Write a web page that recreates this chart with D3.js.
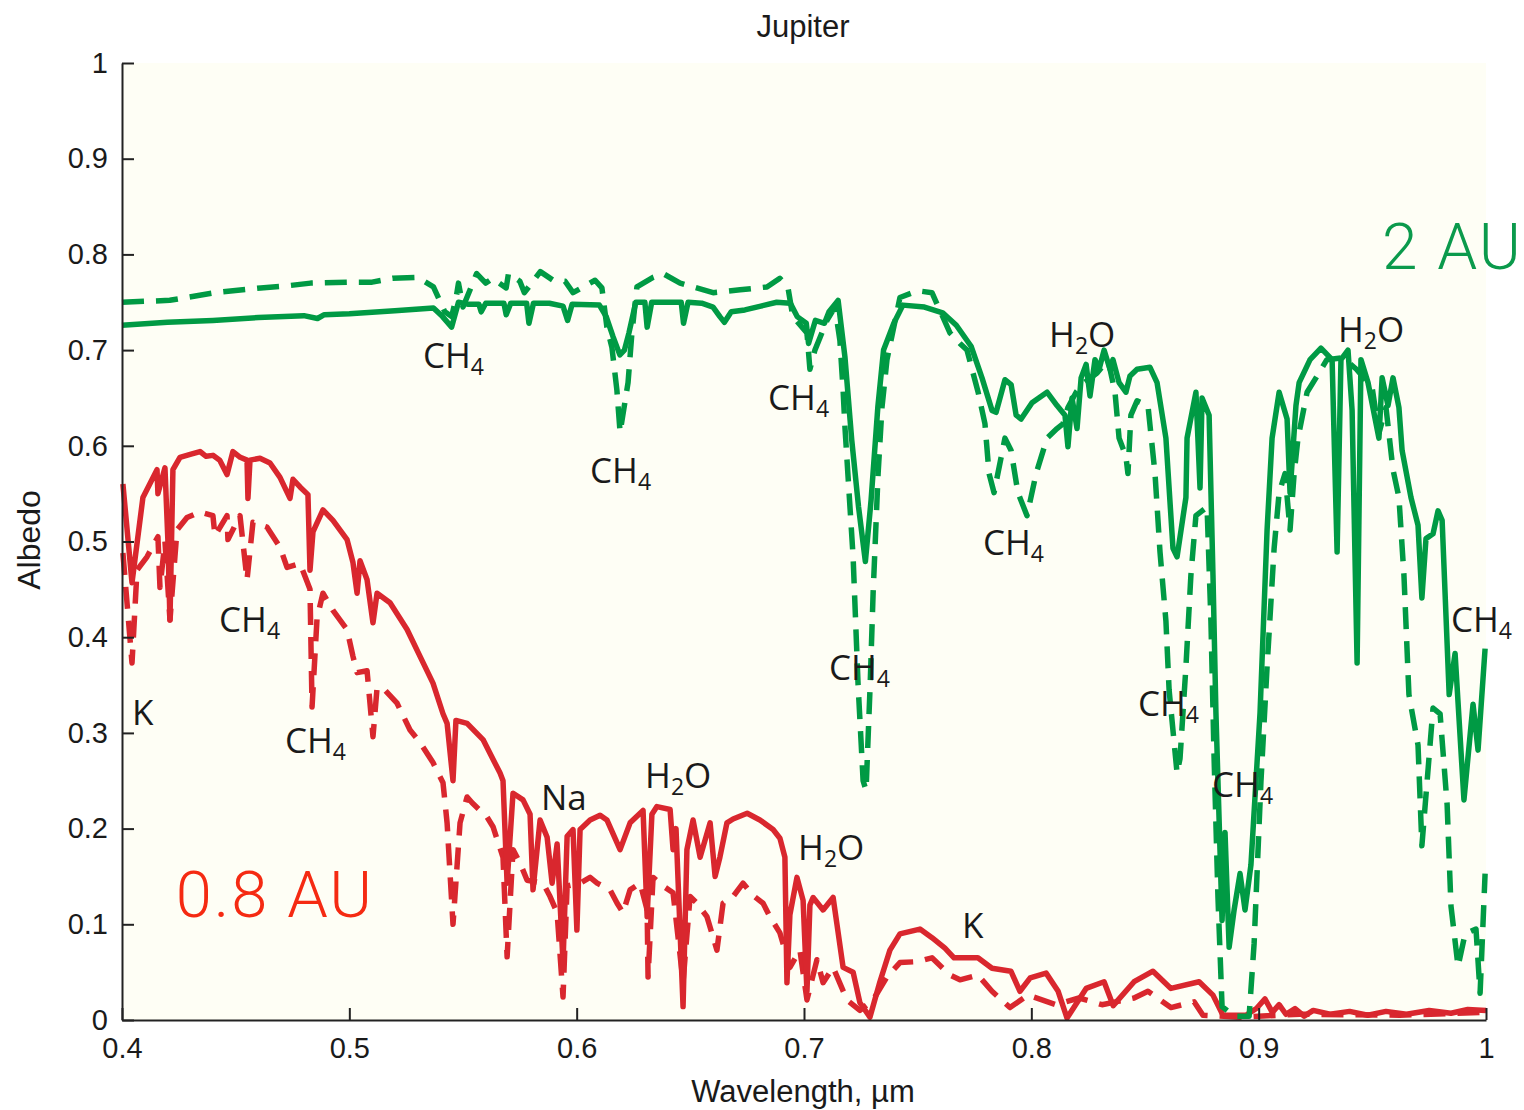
<!DOCTYPE html>
<html>
<head>
<meta charset="utf-8">
<script src="https://cdn.jsdelivr.net/npm/d3@7"></script>
<style>
  body { margin: 0; background: #ffffff; }
  svg { display: block; }
</style>
</head>
<body>
<div id="chart"></div>
<script>
// spectra: [wavelength (um), albedo]
var green2auSolid = [
[0.400,0.726],[0.420,0.729],[0.440,0.731],[0.460,0.734],[0.480,0.736],[0.486,0.733],[0.489,0.737],[0.500,0.738],[0.520,0.741],[0.537,0.744],[0.541,0.735],[0.545,0.724],[0.548,0.750],[0.552,0.748],[0.557,0.748],[0.558,0.740],[0.560,0.749],[0.568,0.749],[0.569,0.737],[0.571,0.749],[0.578,0.749],[0.579,0.728],[0.581,0.749],[0.588,0.749],[0.594,0.746],[0.596,0.731],[0.598,0.748],[0.610,0.747],[0.613,0.735],[0.616,0.714],[0.619,0.695],[0.621,0.700],[0.623,0.718],[0.626,0.750],[0.630,0.750],[0.631,0.724],[0.633,0.750],[0.646,0.750],[0.647,0.728],[0.649,0.750],[0.655,0.749],[0.660,0.745],[0.663,0.735],[0.665,0.729],[0.668,0.740],[0.674,0.742],[0.681,0.746],[0.688,0.750],[0.694,0.749],[0.697,0.735],[0.701,0.728],[0.702,0.707],[0.705,0.731],[0.709,0.728],[0.711,0.740],[0.715,0.752],[0.718,0.693],[0.721,0.606],[0.724,0.536],[0.727,0.479],[0.7295,0.543],[0.7325,0.641],[0.735,0.700],[0.7395,0.728],[0.7435,0.747],[0.753,0.745],[0.761,0.739],[0.767,0.726],[0.7735,0.704],[0.7783,0.671],[0.7827,0.637],[0.7845,0.635],[0.7884,0.669],[0.7911,0.664],[0.7933,0.632],[0.7955,0.628],[0.8003,0.645],[0.8069,0.656],[0.8113,0.642],[0.8148,0.632],[0.8161,0.599],[0.8179,0.650],[0.8201,0.618],[0.8219,0.671],[0.8241,0.685],[0.8258,0.652],[0.8280,0.690],[0.8298,0.680],[0.8320,0.700],[0.8346,0.680],[0.8359,0.690],[0.8386,0.666],[0.8416,0.656],[0.8434,0.673],[0.8465,0.680],[0.8522,0.682],[0.8553,0.666],[0.8592,0.608],[0.8623,0.493],[0.8641,0.484],[0.8680,0.546],[0.8685,0.608],[0.8724,0.656],[0.8742,0.556],[0.8751,0.650],[0.8782,0.632],[0.8799,0.465],[0.8812,0.321],[0.8830,0.177],[0.8839,0.104],[0.8852,0.196],[0.8870,0.076],[0.8892,0.115],[0.8918,0.153],[0.8940,0.115],[0.8966,0.162],[0.9006,0.321],[0.9037,0.512],[0.9059,0.608],[0.9090,0.656],[0.9125,0.628],[0.9138,0.551],[0.9164,0.642],[0.9178,0.666],[0.9226,0.690],[0.9274,0.702],[0.9323,0.690],[0.9345,0.489],[0.9362,0.690],[0.9393,0.700],[0.9411,0.637],[0.9433,0.373],[0.9450,0.690],[0.9481,0.666],[0.9529,0.608],[0.9543,0.671],[0.9569,0.642],[0.9591,0.671],[0.9617,0.640],[0.9631,0.595],[0.9670,0.546],[0.9701,0.517],[0.9718,0.441],[0.9736,0.503],[0.9767,0.508],[0.9789,0.532],[0.9807,0.522],[0.9838,0.340],[0.9864,0.383],[0.9903,0.230],[0.9943,0.330],[0.9965,0.282],[0.9996,0.388]
];

var green2auDashed = [
[0.400,0.750],[0.421,0.752],[0.431,0.756],[0.441,0.760],[0.461,0.765],[0.472,0.767],[0.483,0.770],[0.499,0.771],[0.510,0.771],[0.519,0.775],[0.530,0.776],[0.537,0.766],[0.542,0.740],[0.545,0.735],[0.547,0.755],[0.548,0.770],[0.550,0.745],[0.556,0.780],[0.560,0.770],[0.563,0.775],[0.569,0.765],[0.570,0.780],[0.575,0.772],[0.577,0.760],[0.584,0.782],[0.5896,0.773],[0.5949,0.772],[0.5984,0.760],[0.6081,0.773],[0.6111,0.765],[0.6133,0.724],[0.6155,0.703],[0.6177,0.658],[0.6191,0.614],[0.6226,0.666],[0.6243,0.718],[0.6265,0.766],[0.6336,0.776],[0.638,0.780],[0.6455,0.770],[0.6512,0.766],[0.66,0.760],[0.6719,0.763],[0.6837,0.766],[0.6894,0.775],[0.6929,0.766],[0.6951,0.735],[0.7013,0.718],[0.7026,0.680],[0.7048,0.700],[0.7101,0.731],[0.7136,0.745],[0.7158,0.710],[0.7172,0.658],[0.718,0.620],[0.7216,0.484],[0.7238,0.350],[0.726,0.250],[0.7273,0.240],[0.7291,0.350],[0.7304,0.446],[0.7326,0.571],[0.7343,0.640],[0.7365,0.690],[0.7387,0.715],[0.7422,0.755],[0.750,0.762],[0.7563,0.760],[0.7642,0.718],[0.7686,0.707],[0.7717,0.700],[0.7766,0.656],[0.7796,0.623],[0.7814,0.571],[0.7836,0.551],[0.7884,0.608],[0.7911,0.595],[0.7941,0.551],[0.7981,0.527],[0.8021,0.571],[0.8069,0.608],[0.8113,0.618],[0.8139,0.623],[0.8161,0.640],[0.8197,0.656],[0.8227,0.665],[0.8289,0.676],[0.8337,0.690],[0.8368,0.656],[0.8386,0.608],[0.8416,0.589],[0.8425,0.571],[0.8438,0.632],[0.8465,0.647],[0.8513,0.642],[0.8544,0.571],[0.8566,0.489],[0.8592,0.417],[0.8606,0.345],[0.8641,0.258],[0.8654,0.273],[0.8680,0.369],[0.8702,0.465],[0.8724,0.527],[0.8751,0.532],[0.8773,0.536],[0.8790,0.417],[0.8804,0.273],[0.8821,0.128],[0.8839,0.014],[0.8892,0.004],[0.8958,0.004],[0.8980,0.080],[0.9010,0.249],[0.9037,0.369],[0.9068,0.493],[0.9090,0.551],[0.9116,0.571],[0.9138,0.512],[0.9156,0.571],[0.9173,0.608],[0.9213,0.656],[0.9252,0.671],[0.930,0.690],[0.937,0.692],[0.943,0.680],[0.9499,0.661],[0.9529,0.613],[0.9560,0.640],[0.9591,0.575],[0.9617,0.546],[0.9639,0.465],[0.9661,0.340],[0.9701,0.287],[0.9718,0.182],[0.9767,0.326],[0.9798,0.320],[0.9829,0.225],[0.9846,0.119],[0.9877,0.056],[0.9908,0.090],[0.9956,0.095],[0.9974,0.028],[0.9996,0.153]
];

var red08auSolid = [
[0.4004,0.560],[0.4044,0.457],[0.4092,0.546],[0.4154,0.575],[0.4158,0.550],[0.4189,0.577],[0.4202,0.500],[0.4211,0.418],[0.4224,0.575],[0.4255,0.588],[0.4300,0.591],[0.4343,0.594],[0.4370,0.589],[0.4400,0.590],[0.4430,0.585],[0.4462,0.570],[0.4488,0.594],[0.4520,0.588],[0.4550,0.585],[0.4554,0.545],[0.4563,0.585],[0.4607,0.587],[0.4651,0.582],[0.4695,0.567],[0.4739,0.545],[0.4752,0.565],[0.4783,0.557],[0.4818,0.549],[0.4827,0.470],[0.4840,0.510],[0.4884,0.533],[0.4928,0.522],[0.4990,0.502],[0.5016,0.478],[0.5034,0.446],[0.5047,0.480],[0.5078,0.460],[0.5104,0.415],[0.5122,0.446],[0.5179,0.436],[0.5254,0.408],[0.5311,0.380],[0.5368,0.352],[0.5412,0.320],[0.5430,0.310],[0.5456,0.250],[0.5469,0.313],[0.5518,0.310],[0.5588,0.293],[0.5663,0.258],[0.5676,0.250],[0.5694,0.143],[0.5720,0.237],[0.5764,0.230],[0.5795,0.215],[0.5808,0.136],[0.5839,0.209],[0.5870,0.191],[0.5892,0.143],[0.5914,0.184],[0.5940,0.060],[0.5958,0.192],[0.5984,0.199],[0.6001,0.094],[0.6015,0.199],[0.6059,0.209],[0.6103,0.214],[0.6133,0.209],[0.6191,0.178],[0.6235,0.206],[0.6292,0.219],[0.6310,0.108],[0.6331,0.215],[0.6353,0.223],[0.6411,0.220],[0.6424,0.178],[0.6437,0.200],[0.6468,0.014],[0.6485,0.178],[0.6512,0.209],[0.6543,0.170],[0.6587,0.206],[0.6609,0.150],[0.6630,0.170],[0.6661,0.206],[0.6688,0.210],[0.6750,0.216],[0.6806,0.209],[0.6864,0.199],[0.6894,0.190],[0.6916,0.170],[0.6925,0.039],[0.6938,0.110],[0.6969,0.149],[0.6996,0.125],[0.7013,0.030],[0.7026,0.120],[0.7040,0.128],[0.7084,0.115],[0.7128,0.128],[0.7145,0.100],[0.7172,0.055],[0.7216,0.050],[0.7246,0.018],[0.7290,0.003],[0.7334,0.040],[0.7378,0.073],[0.7422,0.090],[0.7510,0.095],[0.7563,0.086],[0.7620,0.075],[0.7660,0.065],[0.7765,0.065],[0.7827,0.054],[0.7910,0.051],[0.7950,0.030],[0.7995,0.044],[0.8065,0.049],[0.8118,0.030],[0.8157,0.002],[0.8241,0.033],[0.8320,0.040],[0.8360,0.015],[0.8452,0.040],[0.8535,0.051],[0.8614,0.033],[0.8738,0.040],[0.8799,0.026],[0.8843,0.005],[0.8944,0.005],[0.8990,0.012],[0.9028,0.022],[0.9060,0.008],[0.9090,0.016],[0.9120,0.006],[0.9160,0.012],[0.9200,0.004],[0.9240,0.010],[0.9314,0.006],[0.9400,0.009],[0.9480,0.005],[0.9560,0.009],[0.9650,0.006],[0.9750,0.010],[0.9846,0.007],[0.9920,0.011],[1.000,0.010]
];

var red08auDashed = [
[0.4004,0.488],[0.4044,0.373],[0.4066,0.470],[0.4110,0.484],[0.4158,0.505],[0.4167,0.452],[0.4189,0.500],[0.4211,0.418],[0.4242,0.512],[0.4286,0.525],[0.4343,0.531],[0.4400,0.527],[0.4409,0.506],[0.4462,0.527],[0.4466,0.502],[0.4519,0.527],[0.4550,0.460],[0.4576,0.520],[0.4638,0.515],[0.4695,0.494],[0.4726,0.473],[0.4783,0.477],[0.4827,0.450],[0.4836,0.327],[0.4858,0.420],[0.4884,0.446],[0.4928,0.428],[0.4990,0.408],[0.5016,0.380],[0.5034,0.363],[0.5078,0.365],[0.5104,0.296],[0.5122,0.347],[0.5148,0.347],[0.5210,0.331],[0.5267,0.303],[0.5311,0.290],[0.5368,0.269],[0.5412,0.248],[0.5430,0.206],[0.5456,0.100],[0.5487,0.206],[0.5518,0.233],[0.5540,0.227],[0.5606,0.212],[0.5632,0.202],[0.5676,0.170],[0.5694,0.066],[0.5720,0.178],[0.5751,0.164],[0.5782,0.146],[0.5852,0.143],[0.5883,0.129],[0.5914,0.112],[0.5940,0.024],[0.5958,0.140],[0.6015,0.143],[0.6059,0.149],[0.6090,0.143],[0.6147,0.136],[0.6178,0.122],[0.6204,0.112],[0.6235,0.136],[0.6279,0.143],[0.6310,0.115],[0.6314,0.045],[0.6336,0.149],[0.6380,0.140],[0.6424,0.133],[0.6468,0.040],[0.6499,0.129],[0.6529,0.122],[0.6573,0.108],[0.6617,0.073],[0.6644,0.122],[0.6688,0.129],[0.6732,0.143],[0.6776,0.130],[0.6820,0.122],[0.6850,0.108],[0.6894,0.091],[0.6938,0.055],[0.6982,0.073],[0.7013,0.021],[0.7057,0.063],[0.7084,0.039],[0.7128,0.055],[0.7189,0.021],[0.7246,0.010],[0.7304,0.021],[0.7365,0.045],[0.7422,0.060],[0.7501,0.061],[0.7563,0.065],[0.7642,0.047],[0.7686,0.042],[0.7765,0.047],[0.7827,0.030],[0.7906,0.013],[0.7985,0.026],[0.8109,0.016],[0.8210,0.023],[0.8311,0.016],[0.8452,0.023],[0.8513,0.030],[0.8614,0.013],[0.8716,0.019],[0.8755,0.005],[0.8918,0.003],[0.9180,0.006],[0.9620,0.005],[1.000,0.008]
];

var xTicks = [0.4, 0.5, 0.6, 0.7, 0.8, 0.9, 1];
var yTicks = [0, 0.1, 0.2, 0.3, 0.4, 0.5, 0.6, 0.7, 0.8, 0.9, 1];

// absorber labels: [main text, subscript, wavelength, albedo]
var bandLabels = [
["CH", "4", 0.5324, 0.681],
["CH", "4", 0.6059, 0.561],
["CH", "4", 0.6842, 0.637],
["CH", "4", 0.7110, 0.355],
["CH", "4", 0.7787, 0.486],
["CH", "4", 0.8469, 0.318],
["CH", "4", 0.8795, 0.233],
["CH", "4", 0.9846, 0.405],
["CH", "4", 0.4427, 0.405],
["CH", "4", 0.4717, 0.279],
["H2O", "", 0.8078, 0.703],
["H2O", "", 0.9349, 0.708],
["H2O", "", 0.6301, 0.242],
["H2O", "", 0.6974, 0.167],
["Na", "", 0.5843, 0.219],
["K", "", 0.4044, 0.308],
["K", "", 0.7695, 0.086]
];

var green = "#009a44";
var red = "#d9272e";

const W = 1524, H = 1110;
const margin = {left: 122, top: 63, right: 38, bottom: 90};

const svg = d3.select("#chart").append("svg")
    .attr("width", W)
    .attr("height", H);

const x = d3.scaleLinear().domain([0.4, 1]).range([margin.left, W - margin.right]);
const y = d3.scaleLinear().domain([0, 1]).range([H - margin.bottom, margin.top]);

// plot background
svg.append("rect")
    .attr("x", x(0.4))
    .attr("y", y(1))
    .attr("width", x(1) - x(0.4))
    .attr("height", y(0) - y(1))
    .attr("fill", "#fefef5");

const line = d3.line()
    .x(d => x(d[0]))
    .y(d => y(d[1]));

function drawSeries(data, color, dashed) {
    svg.append("path")
        .datum(data)
        .attr("fill", "none")
        .attr("stroke", color)
        .attr("stroke-width", 5.5)
        .attr("stroke-linejoin", "round")
        .attr("stroke-dasharray", dashed ? "22,12" : null)
        .attr("d", line);
}

drawSeries(red08auDashed, red, true);
drawSeries(red08auSolid, red, false);
drawSeries(green2auDashed, green, true);
drawSeries(green2auSolid, green, false);

// axes, ticks pointing inward like matlab
const fmt = d => d === 0 ? "0" : d === 1 ? "1" : d3.format(".1f")(d);

const xAxis = svg.append("g")
    .attr("transform", `translate(0,${y(0)})`)
    .call(d3.axisBottom(x).tickValues(xTicks).tickFormat(fmt)
        .tickSize(-12).tickSizeOuter(0).tickPadding(17));

const yAxis = svg.append("g")
    .attr("transform", `translate(${x(0.4)},0)`)
    .call(d3.axisLeft(y).tickValues(yTicks).tickFormat(fmt)
        .tickSize(-12).tickSizeOuter(0).tickPadding(14));

[xAxis, yAxis].forEach(g => {
    g.select(".domain").attr("stroke", "#222").attr("stroke-width", 2);
    g.selectAll(".tick line").attr("stroke", "#222").attr("stroke-width", 2);
    g.selectAll(".tick text")
        .attr("fill", "#1a1a1a")
        .style("font-family", "'Liberation Sans', Arial, sans-serif")
        .style("font-size", "29px");
});

// titles
svg.append("text")
    .attr("x", 803).attr("y", 37)
    .attr("text-anchor", "middle")
    .style("font-family", "'Liberation Sans', Arial, sans-serif")
    .style("font-size", "31px")
    .attr("fill", "#1a1a1a")
    .text("Jupiter");

svg.append("text")
    .attr("transform", "translate(40,540) rotate(-90)")
    .attr("text-anchor", "middle")
    .style("font-family", "'Liberation Sans', Arial, sans-serif")
    .style("font-size", "32px")
    .attr("fill", "#1a1a1a")
    .text("Albedo");

svg.append("text")
    .attr("x", 803).attr("y", 1102)
    .attr("text-anchor", "middle")
    .style("font-family", "'Liberation Sans', Arial, sans-serif")
    .style("font-size", "31px")
    .attr("fill", "#1a1a1a")
    .text("Wavelength, \u00b5m");

// distance labels
svg.append("text")
    .attr("x", x(0.9543)).attr("y", y(0.785))
    .style("font-family", "Roboto, 'Open Sans', sans-serif")
    .style("font-weight", 300)
    .style("font-size", "64px")
    .style("letter-spacing", "2px")
    .attr("fill", "#0b9a4c")
    .text("2 AU");

svg.append("text")
    .attr("x", x(0.4236)).attr("y", y(0.108))
    .style("font-family", "Roboto, 'Open Sans', sans-serif")
    .style("font-weight", 300)
    .style("font-size", "65px")
    .style("letter-spacing", "2px")
    .attr("fill", "#f52a12")
    .text("0.8 AU");

// molecule labels with subscripts
const lab = svg.append("g")
    .style("font-family", "'Open Sans', 'Noto Sans', sans-serif")
    .style("font-size", "35px")
    .attr("fill", "#1a1a1a");

bandLabels.forEach(b => {
    const t = lab.append("text")
        .attr("x", x(b[2]))
        .attr("y", y(b[3]));
    if (b[0] === "H2O") {
        t.append("tspan").text("H");
        t.append("tspan").attr("dy", 7).style("font-size", "23px").text("2");
        t.append("tspan").attr("dy", -7).text("O");
    } else {
        t.append("tspan").text(b[0]);
        if (b[1]) {
            t.append("tspan").attr("dy", 7).style("font-size", "23px").text(b[1]);
        }
    }
});
</script>
</body>
</html>
